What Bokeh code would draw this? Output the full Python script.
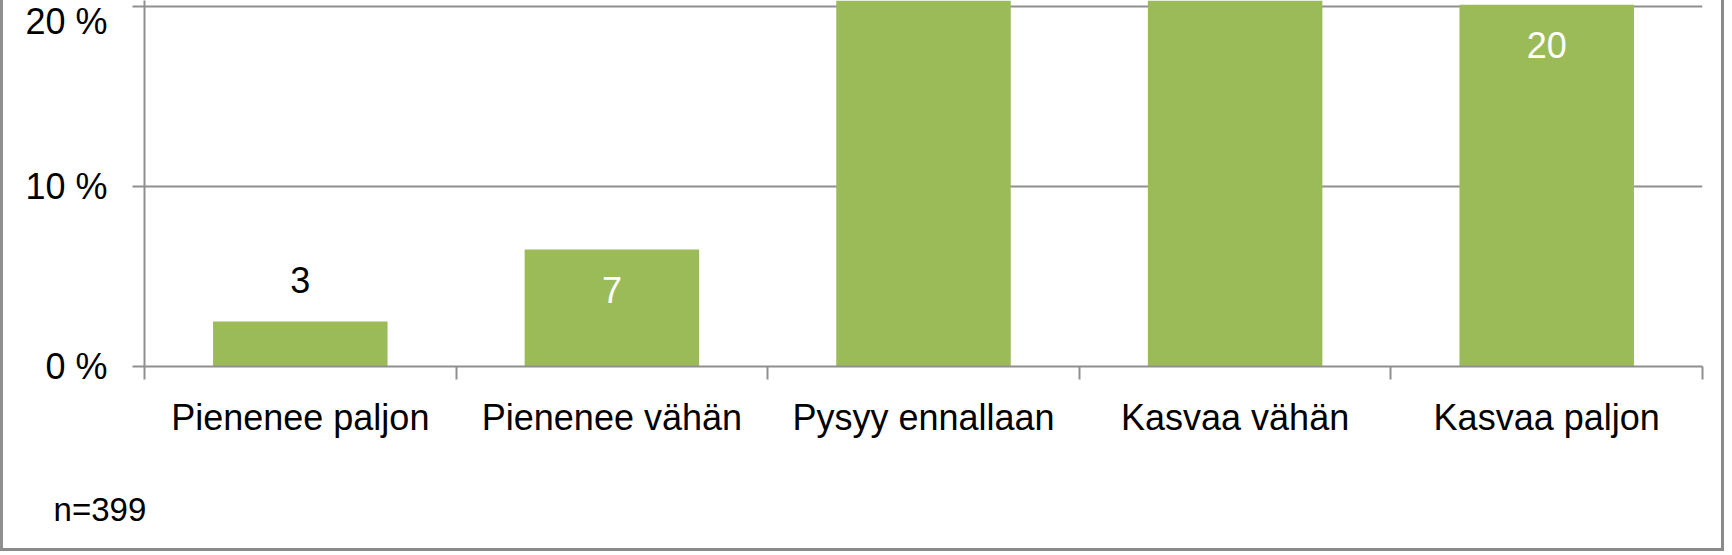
from bokeh.plotting import figure
from bokeh.models import Range1d, FixedTicker, LinearAxis, ColumnDataSource
from bokeh.core.properties import value
from bokeh.embed import file_html
from bokeh.resources import INLINE

# ---- data ----
categories = ["Pienenee paljon", "Pienenee vähän", "Pysyy ennallaan", "Kasvaa vähän", "Kasvaa paljon"]
shares = [2.5, 6.5, 38.6, 32.3, 20.1]
share_labels = ["3", "7", "39", "32", "20"]
y_ticks = [0, 10, 20]
y_tick_labels = ["0 %", "10 %", "20 %"]
note = "n=399"

FONT = "Liberation Sans"
GREEN = "#9BBB59"
GRAY = "#8f8f8f"

W, H = 1724, 551
p = figure(width=W, height=H, output_backend="svg", toolbar_location=None,
           x_range=Range1d(0, len(categories)), y_range=Range1d(0, 366 / 18.0),
           min_border_left=141, min_border_right=25, min_border_top=0, min_border_bottom=185)
p.styles = {"border-left": "3px solid #8f8f8f", "border-right": "3px solid #8a8a8a",
            "border-bottom": "3px solid #8a8a8a"}
p.outline_line_color = None
p.background_fill_color = "white"
p.border_fill_color = "white"

xs = [i + 0.5 for i in range(len(categories))]
src = ColumnDataSource(dict(x=xs, top=shares, lab=share_labels))
p.vbar(x="x", top="top", width=0.56, source=src, fill_color=GREEN, line_color=None)

inside = [i for i, v in enumerate(shares) if v >= 5]
outside = [i for i, v in enumerate(shares) if v < 5]
src_in = ColumnDataSource(dict(x=[xs[i] for i in inside], y=[shares[i] for i in inside],
                               t=[share_labels[i] for i in inside]))
src_out = ColumnDataSource(dict(x=[xs[i] for i in outside], y=[shares[i] for i in outside],
                                t=[share_labels[i] for i in outside]))
p.text(x="x", y="y", text="t", source=src_in, text_align="center", text_baseline="middle",
       y_offset=40, text_color="white", text_font=value(FONT), text_font_size="36px")
p.text(x="x", y="y", text="t", source=src_out, text_align="center", text_baseline="middle",
       y_offset=-42, text_color="black", text_font=value(FONT), text_font_size="36px")

# x axis
xa = p.xaxis[0]
xa.ticker = FixedTicker(ticks=xs, minor_ticks=list(range(len(categories) + 1)))
xa.major_label_overrides = {x: c for x, c in zip(xs, categories)}
xa.major_tick_line_color = None
xa.major_tick_out = 0
xa.major_tick_in = 0
xa.minor_tick_in = 0
xa.minor_tick_out = 13
xa.minor_tick_line_color = GRAY
xa.minor_tick_line_width = 2
xa.axis_line_color = GRAY
xa.axis_line_width = 2
xa.major_label_standoff = 17
xa.major_label_text_font = FONT
xa.major_label_text_font_size = "36px"
xa.major_label_text_color = "black"

# note line below the axis (sample size), as a label-only axis
na = LinearAxis(ticker=FixedTicker(ticks=[0], minor_ticks=[]),
                major_label_overrides={0: note + "\u00a0" * 9 + "\u2009"})
na.axis_line_color = None
na.major_tick_line_color = None
na.minor_tick_line_color = None
na.major_tick_out = 0
na.major_tick_in = 0
na.minor_tick_out = 0
na.minor_tick_in = 0
na.major_label_standoff = 50
na.major_label_text_font = FONT
na.major_label_text_font_size = "33px"
na.major_label_text_color = "black"
p.add_layout(na, "below")

# y axis
ya = p.yaxis[0]
ya.ticker = FixedTicker(ticks=y_ticks, minor_ticks=[])
ya.major_label_overrides = {t: l for t, l in zip(y_ticks, y_tick_labels)}
ya.major_tick_out = 12
ya.major_tick_in = 0
ya.major_tick_line_color = GRAY
ya.major_tick_line_width = 2
ya.minor_tick_line_color = None
ya.axis_line_color = GRAY
ya.axis_line_width = 2
ya.major_label_standoff = 25
ya.major_label_text_font = FONT
ya.major_label_text_font_size = "36px"
ya.major_label_text_color = "black"

p.xgrid.grid_line_color = None
p.ygrid.ticker = FixedTicker(ticks=y_ticks)
p.ygrid.grid_line_color = GRAY
p.ygrid.grid_line_width = 2

open("out.html", "w").write(file_html(p, INLINE))
